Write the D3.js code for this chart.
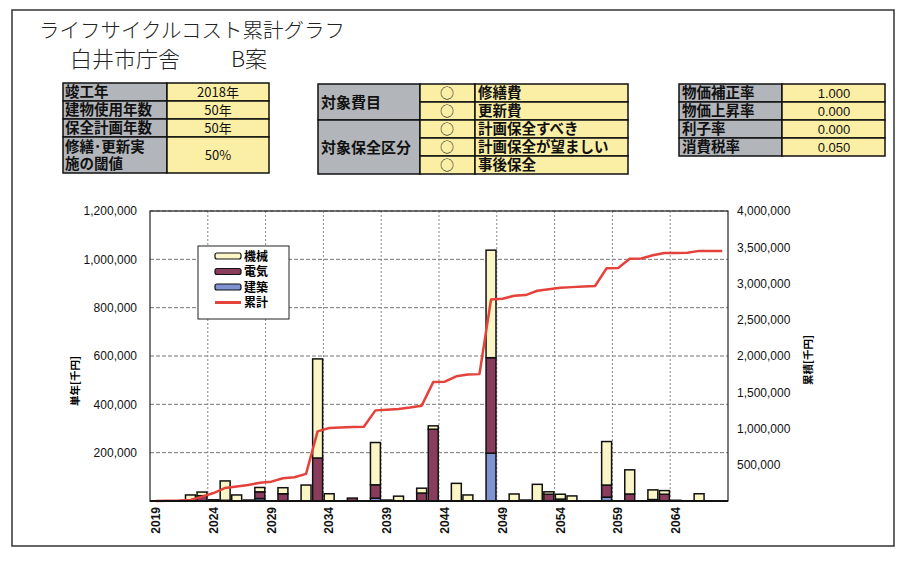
<!DOCTYPE html>
<html>
<head>
<meta charset="utf-8">
<script src="https://cdn.jsdelivr.net/npm/d3@7"></script>
<style>
  body { margin: 0; background: #fff; }
  svg { display: block; }
</style>
</head>
<body>
<div id="chart"></div>
<script>
// data (千円)
const years = [2019,2020,2021,2022,2023,2024,2025,2026,2027,2028,
  2029,2030,2031,2032,2033,2034,2035,2036,2037,2038,
  2039,2040,2041,2042,2043,2044,2045,2046,2047,2048,
  2049,2050,2051,2052,2053,2054,2055,2056,2057,2058,
  2059,2060,2061,2062,2063,2064,2065,2066,2067,2068];

const machine = [0,0,0,20000,15000,0,80000,25000,0,18000,
  0,25000,0,66000,410000,30000,0,0,0,175000,
  0,20000,0,20000,14000,0,73000,25000,0,445000,
  0,29000,0,69000,10000,20000,21000,0,0,180000,
  0,100000,0,40000,15000,0,0,30000,0,0];

const electric = [0,0,0,5000,22000,5000,3000,0,4000,28000,
  0,30000,0,0,178000,0,0,12000,0,55000,
  4000,0,0,33000,297000,0,0,0,0,395000,
  0,0,4000,0,28000,8000,0,0,0,50000,
  0,29000,0,6000,28000,3000,0,0,0,0];

const building = [0,0,0,0,0,0,0,0,0,10000,
  0,0,0,0,0,0,0,0,0,12000,
  0,0,0,0,0,0,0,0,0,198000,
  0,0,0,0,0,0,0,0,0,16000,
  0,0,0,0,0,0,0,0,0,0];

const cumulative = [0,5000,8000,15000,60000,110000,180000,200000,220000,253000,
  267000,314000,328000,374000,960000,1006000,1015000,1020000,1025000,1250000,
  1260000,1270000,1290000,1315000,1640000,1645000,1720000,1745000,1750000,2780000,
  2790000,2830000,2840000,2900000,2920000,2940000,2950000,2960000,2965000,3210000,
  3215000,3340000,3345000,3390000,3420000,3420000,3425000,3450000,3450000,3450000];

const leftTicks = [200000, 400000, 600000, 800000, 1000000, 1200000];
const rightTicks = [500000, 1000000, 1500000, 2000000, 2500000, 3000000, 3500000, 4000000];
const xLabels = [2019, 2024, 2029, 2034, 2039, 2044, 2049, 2054, 2059, 2064];

const table1 = [["竣工年", "2018年"], ["建物使用年数", "50年"], ["保全計画年数", "50年"], [["修繕･更新実", "施の閾値"], "50%"]];
const table2Groups = ["対象費目", "対象保全区分"];
const table2Items = ["修繕費", "更新費", "計画保全すべき", "計画保全が望ましい", "事後保全"];
const table3 = [["物価補正率", "1.000"], ["物価上昇率", "0.000"], ["利子率", "0.000"], ["消費税率", "0.050"]];

const series = [
  { key: "建築", values: building, color: "#7f92d2" },
  { key: "電気", values: electric, color: "#8a3c5c" },
  { key: "機械", values: machine, color: "#fbf6c6" }
];

const W = 898, H = 561;
const plot = { left: 150, right: 728, top: 211, bottom: 501 };
const jp = "'Noto Sans CJK JP', 'Noto Sans', sans-serif";
const num = "'Liberation Sans', Arial, sans-serif";
const GRAY = "#b2b5ba", YELLOW = "#fbefa6";

const svg = d3.select("#chart").append("svg")
  .attr("width", W).attr("height", H);

svg.append("rect").attr("width", W).attr("height", H).attr("fill", "#fff");

// page frame
svg.append("rect")
  .attr("x", 12).attr("y", 10).attr("width", 882).attr("height", 536)
  .attr("fill", "none").attr("stroke", "#333").attr("stroke-width", 1.5);

// titles
svg.append("text").attr("x", 39).attr("y", 38)
  .style("font-family", jp).style("font-size", "20.5px").style("font-weight", 300)
  .attr("fill", "#222").text("ライフサイクルコスト累計グラフ");
svg.append("text").attr("x", 70).attr("y", 67)
  .style("font-family", jp).style("font-size", "22px").style("font-weight", 300)
  .attr("fill", "#222").text("白井市庁舎");
svg.append("text").attr("x", 231).attr("y", 67)
  .style("font-family", jp).style("font-size", "22px").style("font-weight", 300)
  .attr("fill", "#222").text("B案");

// ---- tables ----
function cell(x, y, w, h, fill) {
  svg.append("rect").attr("x", x).attr("y", y).attr("width", w).attr("height", h)
    .attr("fill", fill).attr("stroke", "#111").attr("stroke-width", 1.5);
}
function label(x, y, t, anchor, size, weight) {
  svg.append("text").attr("x", x).attr("y", y)
    .attr("text-anchor", anchor || "start")
    .style("font-family", jp).style("font-size", (size || 15) + "px")
    .style("font-weight", weight || 700).attr("fill", "#111").text(t);
}

// table 1
const t1Rows = [83, 101, 119, 137, 173];
table1.forEach((r, i) => {
  const y0 = t1Rows[i], h = t1Rows[i + 1] - y0;
  cell(63, y0, 104, h, GRAY);
  cell(167, y0, 102, h, YELLOW);
  if (Array.isArray(r[0])) {
    label(65, y0 + 15, r[0][0], "start", 14.5);
    label(65, y0 + 32, r[0][1], "start", 14.5);
  } else {
    label(65, y0 + h - 4, r[0], "start", 14.5);
  }
  label(218, y0 + h / 2 + 5, r[1], "middle", 13, 400);
});

// table 2
const t2Rows = [84, 102, 120, 138, 156, 174];
cell(318, t2Rows[0], 102, t2Rows[2] - t2Rows[0], GRAY);
cell(318, t2Rows[2], 102, t2Rows[5] - t2Rows[2], GRAY);
label(321, (t2Rows[0] + t2Rows[2]) / 2 + 6, table2Groups[0], "start", 15);
label(321, (t2Rows[2] + t2Rows[5]) / 2 + 6, table2Groups[1], "start", 15);
table2Items.forEach((t, i) => {
  const y0 = t2Rows[i], h = t2Rows[i + 1] - y0;
  cell(420, y0, 55, h, YELLOW);
  cell(475, y0, 153, h, YELLOW);
  label(447, y0 + h - 4, "○", "middle", 14, 400);
  label(478, y0 + h - 4, t, "start", 14.5);
});

// table 3
const t3Rows = [84, 102, 120, 138, 156];
table3.forEach((r, i) => {
  const y0 = t3Rows[i], h = t3Rows[i + 1] - y0;
  cell(679, y0, 103, h, GRAY);
  cell(782, y0, 103, h, YELLOW);
  label(682, y0 + h - 4, r[0], "start", 14.5);
  svg.append("text").attr("x", 834).attr("y", y0 + h / 2 + 5)
    .attr("text-anchor", "middle").style("font-family", num).style("font-size", "13px")
    .attr("fill", "#111").text(r[1]);
});

// ---- chart ----
const x = d3.scaleBand().domain(years).range([plot.left, plot.right]).paddingInner(0.14).paddingOuter(0.07);
const xEdge = d3.scaleBand().domain(years).range([plot.left, plot.right]);
const y = d3.scaleLinear().domain([0, 1200000]).range([plot.bottom, plot.top]);
const y2 = d3.scaleLinear().domain([0, 4000000]).range([plot.bottom, plot.top]);

// grid
const grid = svg.append("g");
grid.selectAll("line.h").data(leftTicks).enter().append("line")
  .attr("x1", plot.left).attr("x2", plot.right)
  .attr("y1", d => y(d)).attr("y2", d => y(d))
  .attr("stroke", "#777").attr("stroke-width", 1).attr("stroke-dasharray", "4,2");
grid.selectAll("line.v").data(xLabels.slice(1)).enter().append("line")
  .attr("x1", d => xEdge(d)).attr("x2", d => xEdge(d))
  .attr("y1", plot.top).attr("y2", plot.bottom)
  .attr("stroke", "#888").attr("stroke-width", 1).attr("stroke-dasharray", "2,2");

// stacked bars
const rows = years.map((yr, i) => {
  const o = { year: yr };
  series.forEach(s => { o[s.key] = s.values[i]; });
  return o;
});
const stack = d3.stack().keys(series.map(s => s.key))(rows);

stack.forEach((layer, li) => {
  svg.append("g").selectAll("rect")
    .data(layer.filter(d => d[1] - d[0] > 0))
    .enter().append("rect")
    .attr("x", d => x(d.data.year))
    .attr("width", x.bandwidth())
    .attr("y", d => y(d[1]))
    .attr("height", d => y(d[0]) - y(d[1]))
    .attr("fill", series[li].color)
    .attr("stroke", "#111").attr("stroke-width", 1.5);
});

// cumulative line
svg.append("path")
  .datum(cumulative)
  .attr("fill", "none")
  .attr("stroke", "#e4423b")
  .attr("stroke-width", 2.5)
  .attr("stroke-linejoin", "round")
  .attr("d", d3.line()
    .x((d, i) => x(years[i]) + x.bandwidth() / 2)
    .y(d => y2(d)));

// plot frame
svg.append("rect")
  .attr("x", plot.left).attr("y", plot.top)
  .attr("width", plot.right - plot.left).attr("height", plot.bottom - plot.top)
  .attr("fill", "none").attr("stroke", "#222").attr("stroke-width", 1.2);
svg.append("line").attr("x1", plot.left).attr("x2", plot.right)
  .attr("y1", plot.bottom).attr("y2", plot.bottom)
  .attr("stroke", "#111").attr("stroke-width", 2);

// axes
const leftAxis = svg.append("g")
  .attr("transform", `translate(${plot.left},0)`)
  .call(d3.axisLeft(y).tickValues(leftTicks).tickSize(0).tickPadding(13).tickFormat(d3.format(",")));
const rightAxis = svg.append("g")
  .attr("transform", `translate(${plot.right},0)`)
  .call(d3.axisRight(y2).tickValues(rightTicks).tickSize(0).tickPadding(9).tickFormat(d3.format(",")));
[leftAxis, rightAxis].forEach(a => {
  a.select(".domain").remove();
  a.selectAll("text").style("font-family", num).style("font-size", "12px").attr("fill", "#111");
});

const bottomAxis = svg.append("g")
  .attr("transform", `translate(0,${plot.bottom})`)
  .call(d3.axisBottom(x).tickValues(xLabels).tickSize(0));
bottomAxis.select(".domain").remove();
bottomAxis.selectAll("text")
  .style("font-family", num).style("font-size", "12px").style("font-weight", "bold")
  .attr("fill", "#111")
  .attr("text-anchor", "end")
  .attr("transform", "rotate(-90)")
  .attr("x", -6).attr("y", 0).attr("dy", "0.35em");

// axis titles
svg.append("text")
  .attr("transform", "translate(79,381) rotate(-90)")
  .attr("text-anchor", "middle")
  .style("font-family", jp).style("font-size", "10.5px").style("font-weight", 700)
  .text("単年[千円]");
svg.append("text")
  .attr("transform", "translate(812,360) rotate(-90)")
  .attr("text-anchor", "middle")
  .style("font-family", jp).style("font-size", "10.5px").style("font-weight", 700)
  .text("累積[千円]");

// legend
const lg = svg.append("g").attr("transform", "translate(198,246)");
lg.append("rect").attr("width", 91).attr("height", 73)
  .attr("fill", "#fff").attr("stroke", "#222").attr("stroke-width", 1);
const legendItems = [series[2], series[1], series[0]];
legendItems.forEach((s, i) => {
  lg.append("rect").attr("x", 17).attr("y", 7 + i * 15.5).attr("width", 26).attr("height", 6)
    .attr("rx", 2).attr("fill", s.color).attr("stroke", "#111").attr("stroke-width", 1.2);
  lg.append("text").attr("x", 46).attr("y", 14.5 + i * 15.5)
    .style("font-family", jp).style("font-size", "12px").style("font-weight", 700)
    .text(s.key);
});
lg.append("line").attr("x1", 17).attr("x2", 43).attr("y1", 56.5).attr("y2", 56.5)
  .attr("stroke", "#e4423b").attr("stroke-width", 3);
lg.append("text").attr("x", 46).attr("y", 61)
  .style("font-family", jp).style("font-size", "12px").style("font-weight", 700)
  .text("累計");
</script>
</body>
</html>
